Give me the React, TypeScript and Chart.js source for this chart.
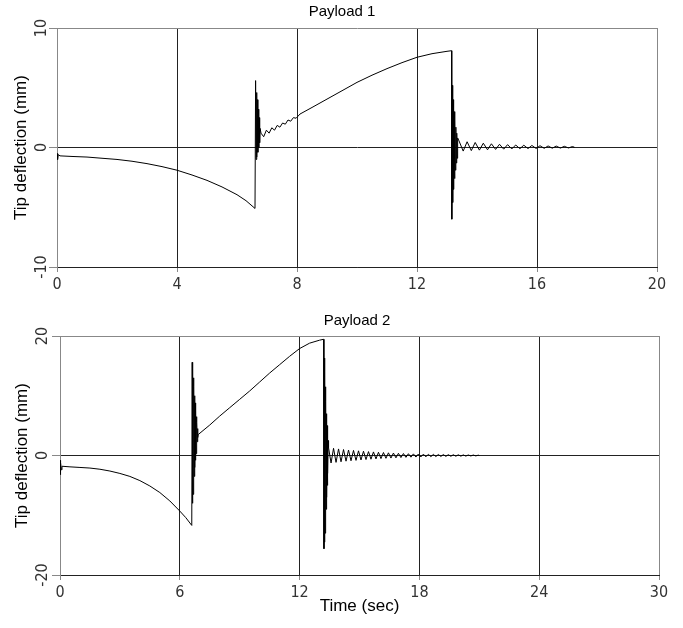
import React, { useEffect, useRef } from "react";
import { Chart, registerables } from "chart.js";

Chart.register(...registerables);

// ---------- Payload 1 (time in s, tip deflection in mm) ----------
const p1RampT = [0, 0.02, 0.04, 0.1, 0.5, 1, 1.5, 2, 2.5, 3, 3.5, 4, 4.5, 5, 5.5, 6, 6.3, 6.6];
const p1RampY = [-0.5, -1.0, -0.6, -0.7, -0.75, -0.8, -0.9, -1.0, -1.15, -1.35, -1.6, -1.9, -2.3, -2.75, -3.3, -3.95, -4.45, -5.1];

const p1Kick1T = [6.62, 6.635, 6.65, 6.665, 6.68, 6.695, 6.71, 6.725, 6.74, 6.755, 6.77];
const p1Kick1Y = [5.6, -1.0, 4.6, -0.8, 4.0, -0.4, 3.2, 0.0, 2.5, 0.4, 1.6];

const p1RiseT = [6.8, 6.89, 6.98, 7.07, 7.16, 7.25, 7.34, 7.43, 7.52, 7.61, 7.7, 7.79, 7.88, 7.97, 8.1, 8.5, 9, 9.5, 10, 10.5, 11, 11.5, 12, 12.5, 13, 13.15];
const p1RiseY = [1.2, 0.9, 1.45, 1.2, 1.65, 1.45, 1.85, 1.7, 2.05, 1.95, 2.3, 2.2, 2.5, 2.45, 2.8, 3.35, 4.05, 4.75, 5.45, 6.05, 6.6, 7.1, 7.55, 7.85, 8.05, 8.1];

const p1Kick2T = [13.16, 13.175, 13.19, 13.205, 13.22, 13.235, 13.25, 13.265, 13.28, 13.295, 13.31, 13.325, 13.34, 13.355];
const p1Kick2Y = [-6.0, 5.2, -4.6, 4.0, -3.5, 3.0, -2.6, 2.3, -1.9, 1.7, -1.3, 1.2, -0.9, 0.8];

const p1TailT = [13.4, 13.54, 13.67, 13.81, 13.94, 14.08, 14.21, 14.35, 14.48, 14.62, 14.75, 14.89, 15.02, 15.16, 15.29, 15.43, 15.56, 15.7, 15.83, 15.97, 16.1, 16.24, 16.37, 16.51, 16.64, 16.78, 16.91, 17.05, 17.18, 17.25];
const p1TailY = [0.55, -0.3, 0.48, -0.26, 0.42, -0.22, 0.36, -0.19, 0.31, -0.16, 0.27, -0.14, 0.24, -0.12, 0.21, -0.1, 0.19, -0.09, 0.17, -0.08, 0.15, -0.07, 0.13, -0.06, 0.12, -0.05, 0.1, -0.04, 0.08, 0.02];

// ---------- Payload 2 ----------
const p2RampT = [0, 0.01, 0.02, 0.03, 0.05, 0.07, 0.1, 0.5, 1, 1.5, 2, 2.5, 3, 3.5, 4, 4.5, 5, 5.5, 6, 6.3, 6.6];
const p2RampY = [-1.0, -3.2, -0.8, -2.8, -1.2, -2.4, -1.8, -1.9, -2.0, -2.1, -2.3, -2.6, -3.0, -3.5, -4.2, -5.1, -6.2, -7.6, -9.3, -10.4, -11.7];

const p2Kick1T = [6.62, 6.635, 6.65, 6.665, 6.68, 6.695, 6.71, 6.725, 6.74, 6.755, 6.77, 6.785, 6.8, 6.815, 6.83, 6.845, 6.86, 6.875, 6.89, 6.905];
const p2Kick1Y = [15.6, -8.0, 14.5, -6.5, 13.0, -5.0, 11.5, -3.5, 10.0, -2.0, 8.8, -0.8, 7.6, 0.3, 6.5, 1.3, 5.5, 2.3, 4.5, 3.0];

const p2RiseT = [6.92, 7.5, 8, 8.5, 9, 9.5, 10, 10.5, 11, 11.5, 12, 12.5, 13, 13.2];
const p2RiseY = [3.5, 5.1, 6.6, 8.0, 9.4, 10.8, 12.3, 13.8, 15.2, 16.6, 17.9, 18.8, 19.3, 19.45];

const p2Kick2T = [13.22, 13.234, 13.248, 13.262, 13.276, 13.29, 13.304, 13.318, 13.332, 13.346, 13.36, 13.374, 13.388, 13.402, 13.416, 13.43];
const p2Kick2Y = [-15.6, 16.3, -14.5, 14.0, -13.0, 11.5, -11.0, 9.0, -9.0, 7.0, -7.0, 5.0, -5.0, 3.5, -3.0, 2.5];

const p2TailT = [13.45, 13.575, 13.7, 13.825, 13.95, 14.075, 14.2, 14.325, 14.45, 14.575, 14.7, 14.825, 14.95, 15.075, 15.2, 15.325, 15.45, 15.575, 15.7, 15.825, 15.95, 16.075, 16.2, 16.325, 16.45, 16.575, 16.7, 16.825, 16.95, 17.075, 17.2, 17.325, 17.45, 17.575, 17.7, 17.825, 17.95, 18.075, 18.2, 18.325, 18.45, 18.575, 18.7, 18.825, 18.95, 19.075, 19.2, 19.325, 19.45, 19.575, 19.7, 19.825, 19.95, 20.075, 20.2, 20.325, 20.45, 20.575, 20.7, 20.825, 20.95, 21.0];
const p2TailY = [1.3, -1.25, 1.2, -1.15, 1.1, -1.05, 1.0, -0.95, 0.92, -0.88, 0.85, -0.82, 0.78, -0.75, 0.72, -0.68, 0.65, -0.62, 0.6, -0.57, 0.54, -0.52, 0.5, -0.47, 0.45, -0.43, 0.41, -0.39, 0.37, -0.35, 0.33, -0.31, 0.3, -0.28, 0.27, -0.26, 0.25, -0.24, 0.23, -0.22, 0.21, -0.2, 0.19, -0.18, 0.17, -0.16, 0.16, -0.15, 0.14, -0.13, 0.13, -0.12, 0.12, -0.11, 0.1, -0.1, 0.09, -0.08, 0.08, -0.07, 0.06, 0.0];

// ---------- axes ----------
const p1XTicks = { min: 0, max: 20, step: 4 };
const p1YTicks = { min: -10, max: 10, step: 10 };
const p2XTicks = { min: 0, max: 30, step: 6 };
const p2YTicks = { min: -20, max: 20, step: 20 };

const TICK_FONT = "'Liberation Sans Narrow', 'DejaVu Sans Condensed', sans-serif";
const LABEL_FONT = "'Liberation Sans', Arial, sans-serif";

function toPoints(ts: number[], ys: number[]) {
  return ts.map((t, i) => ({ x: t, y: ys[i] }));
}

function series(parts: [number[], number[]][]) {
  const out: { x: number; y: number }[] = [];
  parts.forEach(([t, y]) => out.push(...toPoints(t, y)));
  return out;
}

interface Cfg {
  title: string;
  titleX: number;
  titleY: number;
  tickLabelX: number;
  padTop: number;
  padRight: number;
  xHeight: number;
  yWidth: number;
  xT: { min: number; max: number; step: number };
  yT: { min: number; max: number; step: number };
  xTitle?: string;
  yTitlePad: number;
  data: { x: number; y: number }[];
}

function decoPlugin(cfg: Cfg) {
  return {
    id: "deco",
    afterDraw(chart: any) {
      const ctx = chart.ctx as CanvasRenderingContext2D;
      ctx.save();
      ctx.fillStyle = "#000";
      ctx.textAlign = "center";
      ctx.textBaseline = "middle";
      ctx.font = `15px ${LABEL_FONT}`;
      ctx.fillText(cfg.title, cfg.titleX, cfg.titleY);
      const ys = chart.scales.y;
      ctx.font = `16px ${TICK_FONT}`;
      ctx.fillStyle = "#333";
      ys.ticks.forEach((t: any, i: number) => {
        const py = ys.getPixelForTick(i);
        ctx.save();
        ctx.translate(cfg.tickLabelX, py);
        ctx.rotate(-Math.PI / 2);
        ctx.fillText(String(t.value), 0, 0);
        ctx.restore();
      });
      ctx.restore();
    },
  };
}

function makeConfig(cfg: Cfg): any {
  return {
    type: "line",
    data: {
      datasets: [
        {
          data: cfg.data,
          borderColor: "#000",
          borderWidth: 1,
          pointRadius: 0,
          tension: 0,
          fill: false,
        },
      ],
    },
    options: {
      animation: false,
      responsive: false,
      events: [],
      layout: { padding: { top: cfg.padTop, right: cfg.padRight, left: 0, bottom: 0 } },
      plugins: {
        legend: { display: false },
        tooltip: { enabled: false },
        title: { display: false },
      },
      scales: {
        x: {
          type: "linear",
          min: cfg.xT.min,
          max: cfg.xT.max,
          ticks: {
            stepSize: cfg.xT.step,
            autoSkip: false,
            maxRotation: 0,
            padding: 3,
            color: "#333",
            font: { family: TICK_FONT, size: 16 },
          },
          grid: {
            color: (c: any) => (c.tick && c.tick.value === cfg.xT.max ? "#888" : "#222"),
            tickColor: "#888",
            tickLength: 5,
            lineWidth: 1,
          },
          border: { color: "#222" },
          title: cfg.xTitle
            ? {
                display: true,
                text: cfg.xTitle,
                color: "#000",
                font: { family: LABEL_FONT, size: 17 },
                padding: { top: 0, bottom: 11 },
              }
            : { display: false },
          afterFit: (s: any) => {
            s.height = cfg.xHeight;
          },
        },
        y: {
          min: cfg.yT.min,
          max: cfg.yT.max,
          ticks: { stepSize: cfg.yT.step, display: false },
          grid: {
            color: (c: any) => (c.tick && c.tick.value === cfg.yT.max ? "#888" : "#222"),
            tickColor: "#888",
            tickLength: 8,
            lineWidth: 1,
          },
          border: { color: "#888" },
          title: {
            display: true,
            text: "Tip deflection (mm)",
            color: "#000",
            font: { family: LABEL_FONT, size: 17 },
            padding: { top: cfg.yTitlePad, bottom: 0 },
          },
          afterFit: (s: any) => {
            s.width = cfg.yWidth;
          },
        },
      },
    },
    plugins: [decoPlugin(cfg)],
  };
}

const cfg1: Cfg = {
  title: "Payload 1",
  titleX: 342,
  titleY: 12,
  tickLabelX: 42,
  padTop: 28,
  padRight: 26,
  xHeight: 33,
  yWidth: 57,
  xT: p1XTicks,
  yT: p1YTicks,
  yTitlePad: 11,
  data: series([
    [p1RampT, p1RampY],
    [p1Kick1T, p1Kick1Y],
    [p1RiseT, p1RiseY],
    [p1Kick2T, p1Kick2Y],
    [p1TailT, p1TailY],
  ]),
};

const cfg2: Cfg = {
  title: "Payload 2",
  titleX: 357,
  titleY: 21,
  tickLabelX: 43,
  padTop: 36,
  padRight: 24,
  xHeight: 53,
  yWidth: 60,
  xT: p2XTicks,
  yT: p2YTicks,
  xTitle: "Time (sec)",
  yTitlePad: 12,
  data: series([
    [p2RampT, p2RampY],
    [p2Kick1T, p2Kick1Y],
    [p2RiseT, p2RiseY],
    [p2Kick2T, p2Kick2Y],
    [p2TailT, p2TailY],
  ]),
};

function Plot({ cfg, top, height }: { cfg: Cfg; top: number; height: number }) {
  const ref = useRef<HTMLCanvasElement | null>(null);
  useEffect(() => {
    if (!ref.current) return;
    const chart = new Chart(ref.current, makeConfig(cfg));
    return () => chart.destroy();
  }, [cfg]);
  return (
    <canvas
      ref={ref}
      width={683}
      height={height}
      style={{ position: "absolute", left: 0, top, width: 683, height, display: "block" }}
    />
  );
}

export default function App() {
  return (
    <div style={{ position: "absolute", left: 0, top: 0, width: 683, height: 628, background: "#fff" }}>
      <Plot cfg={cfg1} top={0} height={300} />
      <Plot cfg={cfg2} top={300} height={328} />
    </div>
  );
}
